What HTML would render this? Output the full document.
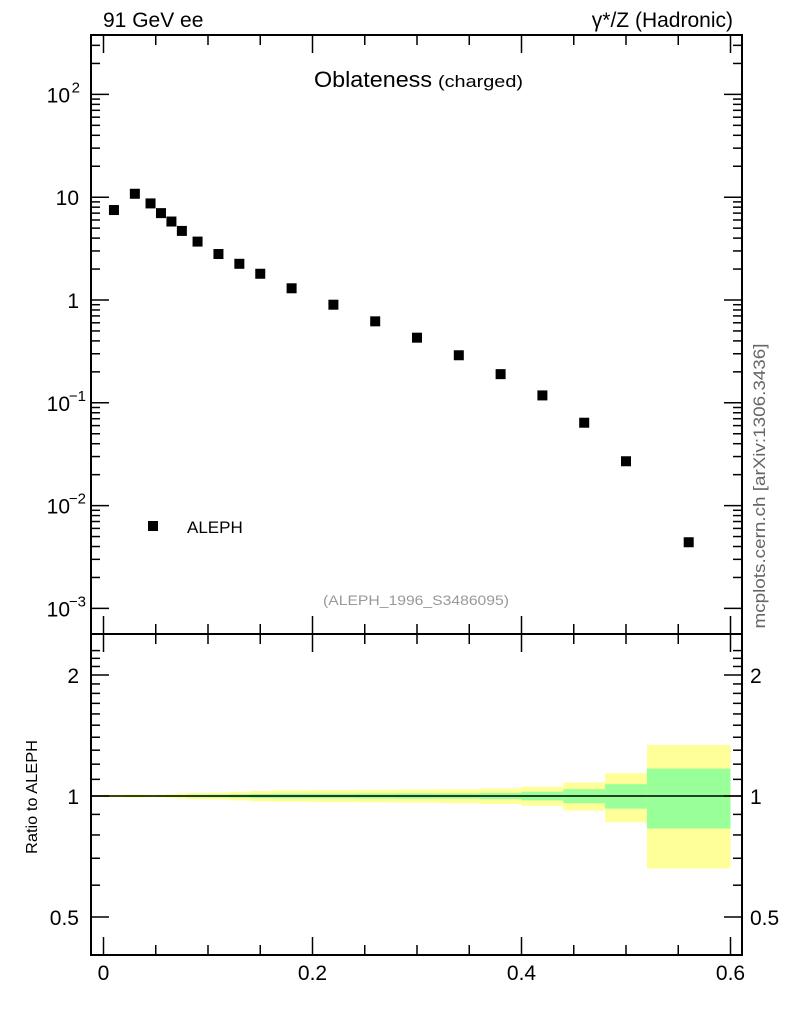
<!DOCTYPE html>
<html><head><meta charset="utf-8"><style>
body{margin:0;background:#fff;width:786px;height:1024px;overflow:hidden}
svg{font-family:"Liberation Sans",sans-serif}
</style></head><body>
<svg id="c" width="786" height="1024"></svg>
<script>
const binEdges=[0,0.02,0.04,0.05,0.06,0.07,0.08,0.1,0.12,0.14,0.16,0.2,0.24,0.28,0.32,0.36,0.40,0.44,0.48,0.52,0.6];
const values=[7.5,10.8,8.7,7.0,5.8,4.7,3.7,2.8,2.25,1.8,1.3,0.9,0.62,0.43,0.29,0.19,0.118,0.064,0.027,0.0044];
const totErr=[0.008,0.01,0.008,0.009,0.012,0.015,0.018,0.02,0.025,0.03,0.033,0.035,0.036,0.038,0.04,0.045,0.055,0.08,0.14,0.34];
const statErr=[0.004,0.005,0.004,0.005,0.005,0.006,0.007,0.008,0.01,0.012,0.013,0.013,0.014,0.015,0.015,0.018,0.025,0.04,0.07,0.17];
const xTicks=[0,0.2,0.4,0.6];
const yMainTicks=[[100,"10","2"],[10,"10",""],[1,"1",""],[0.1,"10","−1"],[0.01,"10","−2"],[0.001,"10","−3"]];
const yRatioTicks=[2,1,0.5];

const NS="http://www.w3.org/2000/svg",svg=document.getElementById('c');
function el(t,a,p){const e=document.createElementNS(NS,t);for(const k in a)e.setAttribute(k,a[k]);(p||svg).appendChild(e);return e;}
const L=91,R=742,T=35,M=634,B=955;
const X=v=>103.5+v*1045;
const Y=v=>300-Math.log10(v)*102.8;
const YR=v=>796-Math.log10(v)*402;
for(let i=0;i<values.length;i++){
  const x0=X(binEdges[i]),x1=X(binEdges[i+1]);
  let r=el('rect',{x:x0,y:YR(1+totErr[i]),width:x1-x0,height:YR(1-totErr[i])-YR(1+totErr[i]),fill:'#ffff99'});
  
  
  r=el('rect',{x:x0,y:YR(1+statErr[i]),width:x1-x0,height:YR(1-statErr[i])-YR(1+statErr[i]),fill:'#99ff99'});
  
  
}
el('line',{x1:L,x2:R,y1:YR(1),y2:YR(1),stroke:'#000','stroke-width':1.5});
for(let i=0;i<values.length;i++){
  const xc=X((binEdges[i]+binEdges[i+1])/2),yc=Y(values[i]);
  const p=el('rect',{x:xc-5,y:yc-5,width:10,height:10,fill:'#000'});
  
  
}
el('rect',{x:L,y:T,width:R-L,height:B-T,fill:'none',stroke:'#000','stroke-width':2});
el('line',{x1:L,x2:R,y1:M,y2:M,stroke:'#000','stroke-width':2});
for(let v=0;v<=0.6001;v+=0.05){
  const major=Math.abs(v/0.2-Math.round(v/0.2))<1e-6, len=major?18:10, x=X(v);
  [[B,-1],[M,-1],[M,1],[T,1]].forEach(([y,d])=>el('line',{x1:x,x2:x,y1:y,y2:y+d*len,stroke:'#000','stroke-width':1.5}));
}
xTicks.forEach(v=>{const t=el('text',{x:X(v),y:980,'font-size':21,'text-anchor':'middle'});t.textContent=v===0?'0':String(v);
});
for(let d=-3;d<=2;d++){for(let m=1;m<10;m++){const v=m*Math.pow(10,d),y=Y(v);if(y<T||y>M)continue;const len=m===1?18:9;
el('line',{x1:L,x2:L+len,y1:y,y2:y,stroke:'#000','stroke-width':1.5});el('line',{x1:R,x2:R-len,y1:y,y2:y,stroke:'#000','stroke-width':1.5});}}
yMainTicks.forEach(([v,b,e])=>{const t=el('text',{x:e?70:79,y:Y(v)+8,'font-size':21,'text-anchor':'end'});t.textContent=b;

if(e){const s=el('text',{x:e.length>1?86:80,y:Y(v)-2,'font-size':15,'text-anchor':'end'});s.textContent=e;}});
for(let v=0.5;v<=2.31;v+=0.1){const y=YR(v);if(y<M||y>B)continue;const major=[0.5,1,2].some(m=>Math.abs(m-v)<1e-6),len=major?18:9;
el('line',{x1:L,x2:L+len,y1:y,y2:y,stroke:'#000','stroke-width':1.5});el('line',{x1:R,x2:R-len,y1:y,y2:y,stroke:'#000','stroke-width':1.5});}
yRatioTicks.forEach(v=>{const s=String(v);let t=el('text',{x:79,y:YR(v)+8,'font-size':21,'text-anchor':'end'});t.textContent=s;

t=el('text',{x:750,y:YR(v)+8,'font-size':21});t.textContent=s;});
function txt(s,a,name){const t=el('text',a);t.textContent=s;return t;}
txt('91 GeV ee',{x:103,y:27,'font-size':21},'energy-label');
txt('γ*/Z (Hadronic)',{x:733,y:27,'font-size':21,'text-anchor':'end'},'process-label');
txt('Oblateness',{x:314,y:87,'font-size':22,textLength:118,lengthAdjust:'spacingAndGlyphs'},'plot-title');
txt('(charged)',{x:438,y:87,'font-size':17,textLength:85,lengthAdjust:'spacingAndGlyphs'},'plot-subtitle');
el('rect',{x:148,y:521,width:10,height:10,fill:'#000'});
txt('ALEPH',{x:187,y:533,'font-size':17},'legend-entry');
txt('(ALEPH_1996_S3486095)',{x:416,y:605,'font-size':14,fill:'#999','text-anchor':'middle',textLength:186,lengthAdjust:'spacingAndGlyphs'},'analysis-id');
txt('mcplots.cern.ch [arXiv:1306.3436]',{x:0,y:0,'font-size':17,fill:'#666','text-anchor':'middle',textLength:285,lengthAdjust:'spacingAndGlyphs',transform:'translate(765,486) rotate(-90)'},'watermark');
txt('Ratio to ALEPH',{x:0,y:0,'font-size':16,'text-anchor':'middle',textLength:114,lengthAdjust:'spacingAndGlyphs',transform:'translate(37,797) rotate(-90)'},'ratio-axis-title');
</script>
</body></html>
